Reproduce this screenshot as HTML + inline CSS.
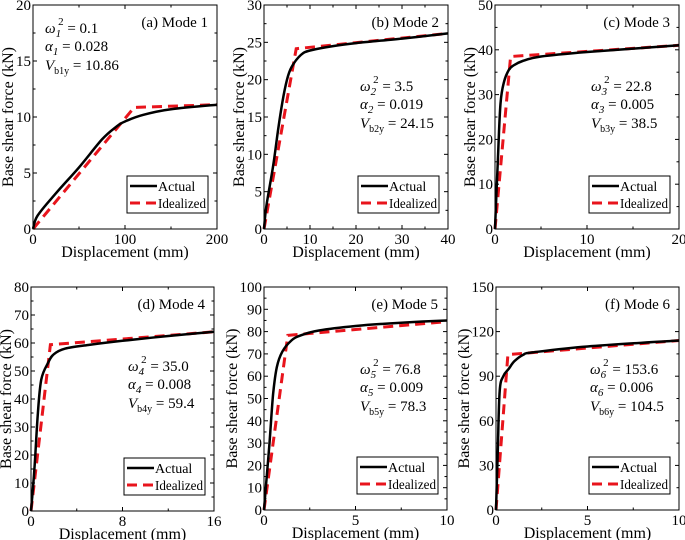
<!DOCTYPE html>
<html><head><meta charset="utf-8"><style>
body{margin:0;background:#fff}
svg{display:block;font-family:"Liberation Serif",serif}
</style></head><body>
<svg id="fig" width="685" height="540" viewBox="0 0 685 540" xmlns="http://www.w3.org/2000/svg"></svg>
<script>
// Panel data (value arrays)
const p1ActualX=[0,5,25,50,75,90,100,120,150,200];
const p1ActualY=[0,1.2,3.2,5.5,8,9.1,9.6,10.2,10.7,11.1];
const p1IdealX=[0,110,200];
const p1IdealY=[0,10.86,11.1];
const p2ActualX=[0,0.5,2,3,4,5,6,8,10,15,20,30,40];
const p2ActualY=[0,3,8.5,13,17,20,21.7,23.3,23.9,24.5,24.9,25.5,26.2];
const p2IdealX=[0,7,40];
const p2IdealY=[0,24.15,26.2];
const p3ActualX=[0,0.3,0.6,1,1.5,2,3,5,10,20];
const p3ActualY=[0,15,28,33,35.5,36.5,37.5,38.5,39.5,41];
const p3IdealX=[0,1.7,20];
const p3IdealY=[0,38.5,41];
const p4ActualX=[0,0.3,0.6,0.9,1.5,2,3,5,8,12,16];
const p4ActualY=[0,15,35,47,53,56,58,59.3,60.8,62.5,64];
const p4IdealX=[0,1.7,16];
const p4IdealY=[0,59.4,64];
const p5ActualX=[0,0.1,0.3,0.5,0.7,1,1.5,2,3,5,7.5,10];
const p5ActualY=[0,10,30,52,64,71,76,78.3,80.5,82.5,84,85];
const p5IdealX=[0,1.3,10];
const p5IdealY=[0,78.3,84.5];
const p6ActualX=[0,0.1,0.2,0.4,0.7,1,1.5,2,5,10];
const p6ActualY=[0,40,80,90,95,100,104.5,106,110,114];
const p6IdealX=[0,0.65,10];
const p6IdealY=[0,104.5,114];
const xTicks1=[0,100,200], yTicks1=[0,5,10,15,20];
const xTicks2=[0,10,20,30,40], yTicks2=[0,5,10,15,20,25,30];
const xTicks3=[0,10,20], yTicks3=[0,10,20,30,40,50];
const xTicks4=[0,8,16], yTicks4=[0,10,20,30,40,50,60,70,80];
const xTicks5=[0,5,10], yTicks5=[0,10,20,30,40,50,60,70,80,90,100];
const xTicks6=[0,5,10], yTicks6=[0,30,60,90,120,150];
const titles=["(a) Mode 1","(b) Mode 2","(c) Mode 3","(d) Mode 4","(e) Mode 5","(f) Mode 6"];
const omegaVals=["0.1","3.5","22.8","35.0","76.8","153.6"];
const alphaVals=["0.028","0.019","0.005","0.008","0.009","0.006"];
const vVals=["10.86","24.15","38.5","59.4","78.3","104.5"];

const NS="http://www.w3.org/2000/svg";
const svg=document.getElementById('fig');
function mk(tag,attrs,parent){const e=document.createElementNS(NS,tag);for(const k in attrs)e.setAttribute(k,attrs[k]);(parent||svg).appendChild(e);return e;}
function smooth(P){
 let d='M'+P[0][0].toFixed(1)+','+P[0][1].toFixed(1);
 for(let i=0;i<P.length-1;i++){
  const p0=P[Math.max(0,i-1)],p1=P[i],p2=P[i+1],p3=P[Math.min(P.length-1,i+2)];
  const c1=[p1[0]+(p2[0]-p0[0])/6,p1[1]+(p2[1]-p0[1])/6];
  const c2=[p2[0]-(p3[0]-p1[0])/6,p2[1]-(p3[1]-p1[1])/6];
  d+=` C${c1[0].toFixed(1)},${c1[1].toFixed(1)} ${c2[0].toFixed(1)},${c2[1].toFixed(1)} ${p2[0].toFixed(1)},${p2[1].toFixed(1)}`;
 }
 return d;
}

const panels=[
 {L:33,R:217,T:5,B:229,ax:p1ActualX,ay:p1ActualY,ix:p1IdealX,iy:p1IdealY,xt:xTicks1,yt:yTicks1,ann:[45,33],tY:27},
 {L:264,R:448,T:5,B:229,ax:p2ActualX,ay:p2ActualY,ix:p2IdealX,iy:p2IdealY,xt:xTicks2,yt:yTicks2,ann:[360,91],tY:27},
 {L:495,R:679,T:5,B:229,ax:p3ActualX,ay:p3ActualY,ix:p3IdealX,iy:p3IdealY,xt:xTicks3,yt:yTicks3,ann:[591,91],tY:27},
 {L:31,R:214,T:287,B:511,ax:p4ActualX,ay:p4ActualY,ix:p4IdealX,iy:p4IdealY,xt:xTicks4,yt:yTicks4,ann:[128,371],tY:309},
 {L:264,R:447,T:287,B:510,ax:p5ActualX,ay:p5ActualY,ix:p5IdealX,iy:p5IdealY,xt:xTicks5,yt:yTicks5,ann:[360,374],tY:309},
 {L:496,R:679,T:287,B:510,ax:p6ActualX,ay:p6ActualY,ix:p6IdealX,iy:p6IdealY,xt:xTicks6,yt:yTicks6,ann:[590,374],tY:309}
];
const sub=["1","2","3","4","5","6"];

panels.forEach((p,i)=>{
 const g=mk('g',{});
 
 
 const xmin=p.xt[0],xmax=p.xt[p.xt.length-1],ymin=p.yt[0],ymax=p.yt[p.yt.length-1];
 const sx=v=>p.L+(v-xmin)/(xmax-xmin)*(p.R-p.L);
 const sy=v=>p.B-(v-ymin)/(ymax-ymin)*(p.B-p.T);
 const tk=mk('g',{stroke:'#000','stroke-width':1},g);
 
 
 for(let k=0;k<p.xt.length;k++){
  const x=sx(p.xt[k]);
  mk('line',{x1:x,x2:x,y1:p.B,y2:p.B-4},tk);mk('line',{x1:x,x2:x,y1:p.T,y2:p.T+4},tk);
  if(k<p.xt.length-1){const m=sx((p.xt[k]+p.xt[k+1])/2);mk('line',{x1:m,x2:m,y1:p.B,y2:p.B-2.5},tk);mk('line',{x1:m,x2:m,y1:p.T,y2:p.T+2.5},tk);}
  const t=mk('text',{x:x,y:p.B+15,'text-anchor':'middle','font-size':15},g);t.textContent=p.xt[k];
  
  
 }
 for(let k=0;k<p.yt.length;k++){
  const y=sy(p.yt[k]);
  mk('line',{x1:p.L,x2:p.L+4,y1:y,y2:y},tk);mk('line',{x1:p.R,x2:p.R-4,y1:y,y2:y},tk);
  if(k<p.yt.length-1){const m=sy((p.yt[k]+p.yt[k+1])/2);mk('line',{x1:p.L,x2:p.L+2.5,y1:m,y2:m},tk);mk('line',{x1:p.R,x2:p.R-2.5,y1:m,y2:m},tk);}
  const t=mk('text',{x:p.L-2,y:y+5,'text-anchor':'end','font-size':15},g);t.textContent=p.yt[k];
  
  
 }
 const pts=(xs,ys)=>xs.map((v,j)=>sx(v).toFixed(1)+','+sy(ys[j]).toFixed(1)).join(' ');
 const id=mk('polyline',{points:pts(p.ix,p.iy),fill:'none',stroke:'#e8141c','stroke-width':3,'stroke-dasharray':'10,6'},g);
 
 
 const ac=mk('path',{d:smooth(p.ax.map((v,j)=>[sx(v),sy(p.ay[j])])),fill:'none',stroke:'#000','stroke-width':2.5,'stroke-linejoin':'round'},g);
 
 
 const fr=mk('rect',{x:p.L,y:p.T,width:p.R-p.L,height:p.B-p.T,fill:'none',stroke:'#000','stroke-width':1},g);
 
 
 const xl=mk('text',{x:(p.L+p.R)/2,y:p.B+28,'text-anchor':'middle','font-size':16},g);xl.textContent='Displacement (mm)';
 
 
 const cy=(p.T+p.B)/2, cx=p.L-(p.yt[p.yt.length-1]>=100?27:20);
 const yl=mk('text',{x:cx,y:cy,'text-anchor':'middle','font-size':16,transform:`rotate(-90 ${cx} ${cy})`},g);yl.textContent='Base shear force (kN)';
 
 
 const tt=mk('text',{x:p.R-9,y:p.tY,'text-anchor':'end','font-size':15},g);tt.textContent=titles[i];
 
 
 const [ax0,ay0]=p.ann;
 const a1=mk('text',{x:ax0,y:ay0,'font-size':15},g);
 a1.innerHTML=`<tspan font-style="italic">ω</tspan><tspan font-style="italic" font-size="11" dy="4">${sub[i]}</tspan><tspan font-size="11" dx="-3" dy="-12">2</tspan><tspan dy="8"> = ${omegaVals[i]}</tspan>`;
 
 
 const a2=mk('text',{x:ax0,y:ay0+18,'font-size':15},g);
 a2.innerHTML=`<tspan font-style="italic">α</tspan><tspan font-style="italic" font-size="11" dy="4">${sub[i]}</tspan><tspan dy="-4"> = ${alphaVals[i]}</tspan>`;
 
 
 const a3=mk('text',{x:ax0,y:ay0+37,'font-size':15},g);
 a3.innerHTML=`<tspan font-style="italic">V</tspan><tspan font-size="10" dy="4">b${sub[i]}y</tspan><tspan dy="-4"> = ${vVals[i]}</tspan>`;
 
 
 const lg=mk('g',{},g);
 
 
 const lx=p.R-90,ly=p.B-53;
 mk('rect',{x:lx,y:ly,width:81,height:37,fill:'#fff',stroke:'#000','stroke-width':1},lg);
 mk('line',{x1:lx+3,x2:lx+30,y1:ly+10,y2:ly+10,stroke:'#000','stroke-width':2.5},lg);
 mk('line',{x1:lx+3,x2:lx+30,y1:ly+27,y2:ly+27,stroke:'#e8141c','stroke-width':3,'stroke-dasharray':'10,6'},lg);
 const l1=mk('text',{x:lx+31,y:ly+15,'font-size':14},lg);l1.textContent='Actual';
 
 
 const l2=mk('text',{x:lx+31,y:ly+32,'font-size':14,textLength:48,lengthAdjust:'spacingAndGlyphs'},lg);l2.textContent='Idealized';
 
 
});
</script>
</body></html>
